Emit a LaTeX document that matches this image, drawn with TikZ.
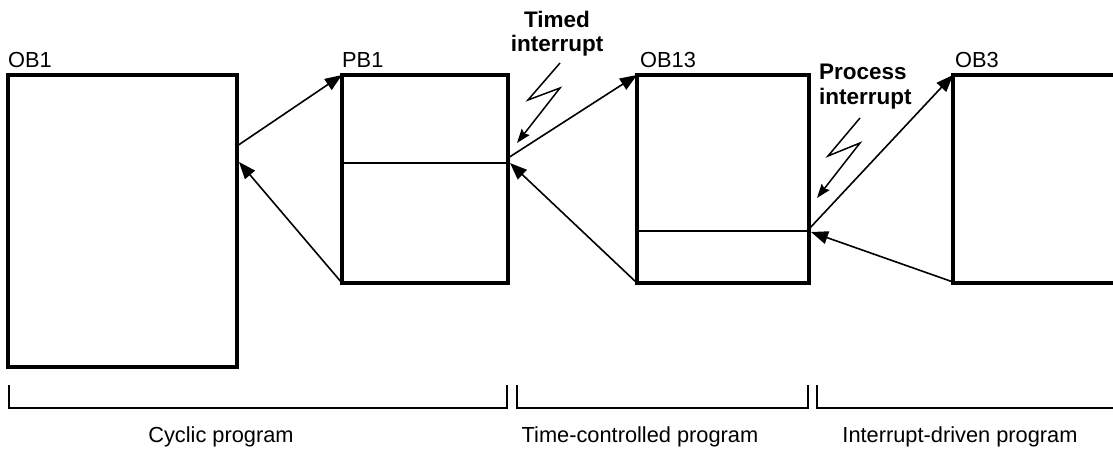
\documentclass[tikz,border=0pt]{standalone}
\usepackage{fontspec}
\setmainfont{Liberation Sans}
\usetikzlibrary{arrows.meta}
\tikzset{
  blk/.style={line width=4pt, line cap=rect},
  sep/.style={line width=1.5pt},
  flow/.style={line width=1.6pt, -{Triangle[length=17pt,width=13pt]}},
  zig/.style={line width=1.5pt, line join=miter, -{Stealth[length=14pt,width=10pt,inset=2pt]}},
  brk/.style={line width=1.8pt},
  lbl/.style={inner sep=0pt, font=\fontsize{21.8}{24.5}\selectfont},
  blbl/.style={inner sep=0pt, font=\fontsize{22.5}{24.5}\selectfont\bfseries}
}
\begin{document}
\begin{tikzpicture}[x=1pt,y=1pt]
\useasboundingbox (0,0) rectangle (1113,454);
\clip (0,0) rectangle (1113,454);
% corner coordinates
\coordinate (ob1tl) at (8,379);   \coordinate (ob1br) at (237,87);
\coordinate (pb1tl) at (342,379); \coordinate (pb1br) at (508,171);
\coordinate (ob13tl) at (637,379); \coordinate (ob13br) at (809,171);
\coordinate (ob3tl) at (953,379); \coordinate (ob3br) at (1140,171);
% boxes
\draw[blk] (ob1tl) rectangle (ob1br);
\draw[blk] (pb1tl) rectangle (pb1br);
\draw[blk] (ob13tl) rectangle (ob13br);
\draw[blk] (ob3tl) rectangle (ob3br);
% inner lines
\coordinate (pb1l) at (342,291); \coordinate (pb1r) at (508,291);
\coordinate (ob13l) at (637,223); \coordinate (ob13r) at (809,223);
\draw[sep] (pb1l) -- (pb1r);
\draw[sep] (ob13l) -- (ob13r);
% labels
\node[lbl, anchor=base west] (tob1) at (8,386) {OB1};
\node[lbl, anchor=base west] (tpb1) at (342,386) {PB1};
\node[lbl, anchor=base west] (tob13) at (640,386) {OB13};
\node[lbl, anchor=base west] (tob3) at (955,386) {OB3};
% call / return arrows
\coordinate (o1out) at (237,308); \coordinate (o1in) at (239,292);
\coordinate (pb1bl) at (342,171);
\coordinate (p1out) at (508,296); \coordinate (p1in) at (510,291);
\coordinate (ob13bl) at (637,171);
\coordinate (o13out) at (809,225); \coordinate (o13in) at (811,222);
\coordinate (ob3bl) at (953,172);
\draw[flow] (o1out) -- (pb1tl);
\draw[flow] (pb1bl) -- (o1in);
\draw[flow] (p1out) -- (ob13tl);
\draw[flow] (ob13bl) -- (p1in);
\draw[flow] (o13out) -- (ob3tl);
\draw[flow] (ob3bl) -- (o13in);
% interrupts
\node[blbl, align=center, anchor=north] (timed) at (557,443) {Timed\\interrupt};
\node[blbl, align=left, anchor=north west] (proc) at (819,390) {Process\\interrupt};
\coordinate (z1a) at (560,391); \coordinate (z1b) at (528,354);
\coordinate (z1c) at (560,366); \coordinate (z1d) at (517,311);
\draw[zig] (z1a) -- (z1b) -- (z1c) -- (z1d);
\coordinate (z2a) at (860,336); \coordinate (z2b) at (828,298);
\coordinate (z2c) at (860,311); \coordinate (z2d) at (817,256);
\draw[zig] (z2a) -- (z2b) -- (z2c) -- (z2d);
% brackets
\coordinate (b1l) at (9,69);   \coordinate (b1r) at (507,69);
\coordinate (b2l) at (517,69); \coordinate (b2r) at (808,69);
\coordinate (b3l) at (817,69); \coordinate (b3r) at (1130,69);
\draw[brk] (b1l) |- (507,46) -- (b1r);
\draw[brk] (b2l) |- (808,46) -- (b2r);
\draw[brk] (b3l) |- (1130,46);
\node[lbl, anchor=base] (cyc) at (221,11) {Cyclic program};
\node[lbl, anchor=base] (tcp) at (640,11) {Time-controlled program};
\node[lbl, anchor=base] (idp) at (960,11) {Interrupt-driven program};
\end{tikzpicture}
\end{document}
